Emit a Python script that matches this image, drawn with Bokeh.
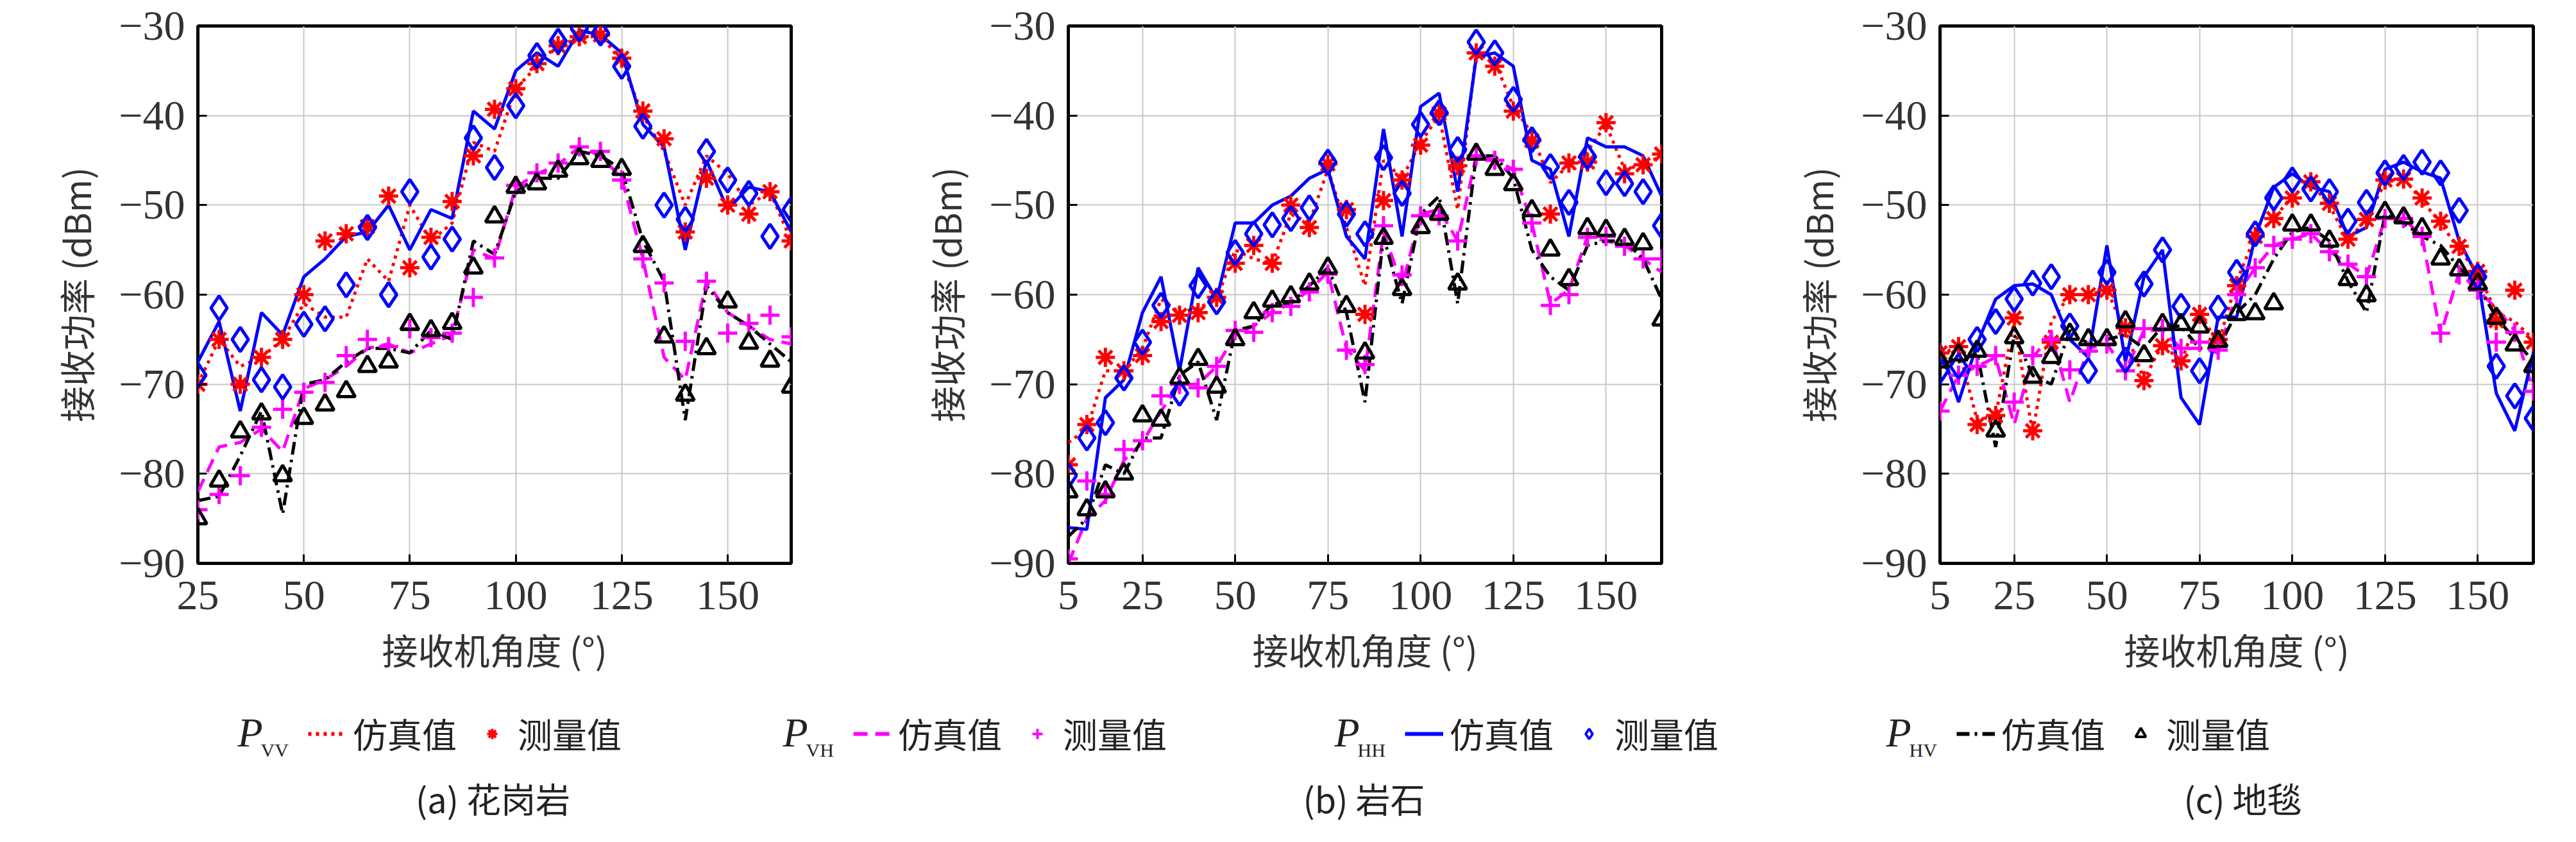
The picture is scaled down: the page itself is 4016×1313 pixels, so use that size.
import numpy as np
from bokeh.plotting import figure
from bokeh.layouts import column, row
from bokeh.models import Legend, LegendItem, Label, FixedTicker, ColumnDataSource, Range1d
from bokeh.embed import file_html
from bokeh.resources import INLINE

# ---------------- data ----------------
xa = list(range(25, 170, 5))
xb = list(range(5, 170, 5))
xc = list(range(5, 170, 5))

a_hh_sim = [-67.5,-63,-73,-62,-64.5,-58,-56,-53.5,-53,-50,-55,-50.5,-51.5,-39.5,-41.5,-35,-33,-34.5,-30.5,-31,-33,-41,-43.5,-55,-45,-50.5,-48,-48.5,-53]
a_hh_meas = [-69,-61.5,-65,-69.5,-70.3,-63.3,-62.7,-58.9,-52.5,-60,-48.5,-55.8,-53.8,-42.5,-45.8,-38.9,-33.3,-31.7,-30.3,-30.8,-34.5,-41.2,-50,-51.6,-44,-47.2,-48.7,-53.5,-50.5]
a_vv_sim = [-70,-65,-68,-67,-65,-61,-62.5,-62.5,-56,-58.5,-50,-54,-52,-43,-44,-37,-34.5,-32,-31.5,-31,-34,-40,-44,-50,-44.5,-46.5,-50,-48.5,-54]
a_vv_meas = [-70,-65,-70,-67,-65,-60,-54,-53.2,-52.4,-49,-57,-53.6,-49.6,-44.5,-39.3,-37,-34.2,-32.2,-31.2,-31,-33.6,-39.5,-42.6,-53,-47,-50,-51,-48.5,-54]
a_vh_sim = [-82,-77,-76.5,-75,-77.5,-70.5,-69.5,-68,-66,-65.5,-66.5,-65.5,-64.5,-55,-56,-48,-46.5,-45.5,-43.5,-44.5,-47,-56,-67,-69.5,-58.5,-62,-63.5,-65,-65.5]
a_vh_meas = [-84,-82.3,-80.2,-74.8,-72.8,-70.9,-69.8,-66.8,-65,-65.8,-63.8,-64.8,-64.3,-60.3,-55.9,-47.8,-46.4,-45.3,-43.5,-44,-47.2,-56,-58.7,-65.2,-58.5,-64.3,-63.2,-62.3,-64.7]
a_hv_sim = [-83,-82.5,-78,-73,-84.5,-70,-69.5,-67.5,-66,-66,-66.5,-64,-65,-54,-55.5,-48.5,-47,-47,-44,-44.5,-46,-54,-58.5,-74,-59,-62,-63.5,-65.5,-67.5]
a_hv_meas = [-85,-80.8,-75.3,-73.3,-80.2,-73.8,-72.3,-70.8,-68,-67.5,-63.3,-64,-63.2,-57,-51.3,-48,-47.6,-46.2,-44.8,-45.1,-46,-54.6,-64.7,-71.2,-66,-60.8,-65.4,-67.4,-70.3]

b_hh_sim = [-86,-86.2,-71.5,-69.5,-62,-58,-68.5,-57,-60.5,-52,-52,-50,-49,-47,-46,-53.5,-56,-41.5,-53.5,-39,-37.5,-48.5,-33.5,-33,-34.5,-45,-46,-53.5,-42.5,-43.5,-43.5,-44.5,-49]
b_hh_meas = [-80.2,-76,-74.3,-69.3,-65.3,-61.2,-71,-59,-60.8,-55.3,-53.2,-52.2,-51.5,-50.3,-45.2,-51,-53.2,-44.7,-48.7,-41,-39.7,-43.8,-31.8,-33,-38.2,-42.7,-45.7,-49.7,-44.6,-47.5,-47.6,-48.5,-52.3]
b_vv_sim = [-76.5,-75,-68.5,-68.5,-66,-60.5,-62,-61.5,-60.5,-55,-56,-56.5,-51,-52,-46,-52.5,-59,-45,-47,-43,-40,-50.5,-33,-34,-39,-42,-47.5,-45.5,-44,-41,-46,-45.5,-44.5]
b_vv_meas = [-79,-74.5,-67,-68.5,-66.8,-63,-62.3,-62,-60.3,-56.5,-54.5,-56.5,-50,-52.5,-45.4,-50.5,-62.2,-49.5,-47.2,-43.3,-39.8,-45.6,-33,-34.5,-39.5,-42.8,-51,-45.3,-45.2,-40.8,-46.5,-45.5,-44.3]
b_vh_sim = [-90,-85,-83,-78.5,-76.5,-73,-70,-70,-68,-64.5,-63.5,-62,-61,-59.5,-57.5,-66,-68.5,-53,-59,-51,-50.5,-54,-44.5,-45,-46,-52,-61,-59.5,-53.5,-54,-54.5,-56,-57.5]
b_vh_meas = [-89.5,-80.8,-82.3,-77.3,-76.3,-71.3,-70,-70.4,-68,-64,-64.2,-62,-61.3,-59.7,-57.7,-66.2,-67.8,-52.3,-57.8,-51.2,-51.2,-54,-44.5,-45,-46,-52,-61.2,-60,-53.6,-53.5,-54.6,-56,-56]
b_hv_sim = [-87,-85,-79,-80,-76,-76,-69,-67.5,-74,-64,-63.5,-61,-61,-59,-57,-62,-72,-53.5,-61,-51,-49,-61,-44.5,-44.5,-47,-55,-58,-59.5,-54.5,-54,-54,-56,-60.5]
b_hv_meas = [-82,-84,-82,-80,-73.5,-74,-69.3,-67.2,-70.3,-65,-62,-60.7,-60.2,-58.8,-57,-61.3,-66.5,-53.7,-59.4,-52.5,-51,-58.8,-44.3,-46,-47.7,-50.6,-55,-58.3,-52.6,-52.8,-53.8,-54.3,-62.8]

c_hh_sim = [-65.5,-72,-65.5,-60.5,-59,-58.8,-60,-65,-67,-54.5,-67.5,-58,-55,-71.5,-74.5,-62.5,-62.5,-53.5,-48,-46.5,-48,-48.5,-53.5,-52.5,-46,-45.2,-46.3,-47,-54,-58,-71,-75.2,-66.5]
c_hh_meas = [-68.5,-68,-65,-63,-60.5,-58.7,-58,-63.5,-68.5,-57.5,-67.3,-58.8,-55,-61.3,-68.5,-61.5,-57.5,-53.2,-49.2,-47.2,-48.2,-48.5,-51.8,-49.7,-46.4,-45.8,-45.2,-46.4,-50.6,-58,-68,-71.3,-73.8]
c_vv_sim = [-66.5,-66,-74,-73.5,-63,-75.5,-63,-60,-60,-59.5,-64,-69.5,-65.5,-67.5,-62,-65.5,-58.5,-53.5,-51.5,-49,-47.5,-50,-54,-51.5,-47.5,-47,-49.5,-52,-55,-57.5,-62,-63,-65]
c_vv_meas = [-66.5,-65.8,-74.5,-73.5,-62.6,-75.2,-65.3,-60,-60,-59.5,-63.7,-69.6,-65.7,-67.4,-62.2,-65,-59,-53.5,-51.5,-49.2,-47.4,-49.8,-53.8,-51.6,-47.2,-47.1,-49.2,-51.8,-54.6,-57.4,-62.9,-59.5,-65.3]
c_vh_sim = [-73,-69,-68,-67,-74.5,-67,-64.5,-72,-66,-65.5,-68.5,-64,-64,-66,-66,-66.5,-60,-57,-54.5,-53.8,-53.2,-55.2,-56.5,-58,-51.5,-51.5,-53.5,-64.5,-57.5,-59.5,-61.5,-64,-70.8]
c_vh_meas = [-73,-69,-68,-66.8,-72,-66.8,-65,-68.4,-66.3,-65.5,-68.5,-63.8,-63.8,-66,-65.3,-66.2,-60,-57,-54.5,-53.8,-53.2,-55.2,-56.6,-58,-51.5,-51.5,-53.5,-64.3,-57.8,-59.5,-65.3,-64.2,-70.8]
c_hv_sim = [-67.5,-67.5,-66.5,-77,-64.5,-69,-70,-64,-65.5,-65,-64.5,-66,-63.5,-63.5,-66,-66,-62,-60,-56,-53,-52.5,-54,-58.5,-62,-51,-52,-53.5,-54.5,-57,-59,-62.5,-65,-67.5]
c_hv_meas = [-67.5,-66.7,-66.3,-75.2,-64.8,-69.2,-67,-64.4,-65,-65,-63,-66.8,-63.3,-63.3,-63.6,-65.2,-62.2,-62.1,-61,-52.2,-52.2,-54,-58.3,-60.1,-50.8,-51.4,-52.6,-56,-57.2,-58.8,-62.6,-65.6,-68]

xticks_a = [25, 50, 75, 100, 125, 150]
xticks_bc = [5, 25, 50, 75, 100, 125, 150]
yticks = [-90, -80, -70, -60, -50, -40, -30]
captions = ["(a) 花岗岩", "(b) 岩石", "(c) 地毯"]

SERIF = "Liberation Serif"
CJK = "Noto Sans CJK SC"

STY = {
    "VV": dict(color="red", dash="5 7", marker="asterisk", size=30),
    "VH": dict(color="magenta", dash="22 12", marker="cross", size=30),
    "HH": dict(color="blue", dash="solid", marker="diamond", size=38),
    "HV": dict(color="black", dash="20 8 4 8", marker="triangle", size=28),
}


def panel(x, series, xmin, xticks, left, right):
    p = figure(frame_width=925, frame_height=838, min_border_left=left,
               min_border_right=right, min_border_top=40, min_border_bottom=222,
               x_range=Range1d(xmin, 165), y_range=Range1d(-90, -30),
               output_backend="svg", toolbar_location=None,
               background_fill_color="white", border_fill_color="white")
    for key in ["VV", "VH", "HH", "HV"]:
        sim, meas = series[key]
        s = STY[key]
        p.line(x, sim, line_color=s["color"], line_dash=s["dash"], line_width=5)
    for key in ["VV", "VH", "HH", "HV"]:
        sim, meas = series[key]
        s = STY[key]
        p.scatter(x, meas, marker=s["marker"], size=s["size"], line_color=s["color"],
                  fill_color=None if s["marker"] in ("diamond", "triangle") else s["color"],
                  line_width=5)
    p.outline_line_color = "black"
    p.outline_line_width = 5
    p.xaxis.ticker = FixedTicker(ticks=xticks)
    p.yaxis.ticker = FixedTicker(ticks=yticks)
    p.yaxis.major_label_overrides = {t: "\u2212" + str(-t) for t in yticks}
    for ax in (p.xaxis, p.yaxis):
        ax.axis_line_color = None
        ax.major_tick_in = 14
        ax.major_tick_out = 0
        ax.major_tick_line_width = 3
        ax.minor_tick_line_color = None
        ax.major_label_text_font = SERIF
        ax.major_label_text_font_size = "66px"
        ax.major_label_text_color = "#333333"
        ax.axis_label_text_font = CJK
        ax.axis_label_text_font_size = "56px"
        ax.axis_label_text_font_style = "normal"
        ax.axis_label_text_color = "#333333"
    p.xaxis.major_label_standoff = 28
    p.yaxis.major_label_standoff = 20
    p.xaxis.axis_label = "接收机角度 (°)"
    p.yaxis.axis_label = "接收功率 (dBm)"
    p.xaxis.axis_label_standoff = 18
    p.yaxis.axis_label_standoff = 24
    p.grid.grid_line_color = "#c8c8c8"
    p.grid.grid_line_width = 2
    return p


pa = panel(xa, {"VV": (a_vv_sim, a_vv_meas), "VH": (a_vh_sim, a_vh_meas),
                "HH": (a_hh_sim, a_hh_meas), "HV": (a_hv_sim, a_hv_meas)}, 25, xticks_a, 308, 100)
pb = panel(xb, {"VV": (b_vv_sim, b_vv_meas), "VH": (b_vh_sim, b_vh_meas),
                "HH": (b_hh_sim, b_hh_meas), "HV": (b_hv_sim, b_hv_meas)}, 5, xticks_bc, 332, 76)
pc = panel(xc, {"VV": (c_vv_sim, c_vv_meas), "VH": (c_vh_sim, c_vh_meas),
                "HH": (c_hh_sim, c_hh_meas), "HV": (c_hv_sim, c_hv_meas)}, 5, xticks_bc, 358, 40)

# ---------------- legend + captions ----------------
lg = figure(width=3999, height=195, x_range=Range1d(0, 1), y_range=Range1d(0, 1),
            output_backend="svg", toolbar_location=None, min_border=0)
lg.axis.visible = False
lg.grid.visible = False
lg.outline_line_color = None
# off-range placeholder data: only the legend samples of these renderers are visible
dummy = ColumnDataSource(dict(x=[-5, -4], y=[-5, -4]))
legend_x = [440, 1290, 2150, 3010]
for i, key in enumerate(["VV", "VH", "HH", "HV"]):
    s = STY[key]
    rl = lg.line("x", "y", source=dummy, line_color=s["color"], line_dash=s["dash"], line_width=6)
    rm = lg.scatter("x", "y", source=dummy, marker=s["marker"], size=s["size"], line_color=s["color"],
                    fill_color=None if s["marker"] in ("diamond", "triangle") else s["color"], line_width=4)
    leg = Legend(items=[LegendItem(label="仿真值", renderers=[rl]), LegendItem(label="测量值", renderers=[rm])],
                 orientation="horizontal", location=(legend_x[i] + 40, 112),
                 glyph_width=60, glyph_height=40, label_standoff=10, spacing=25,
                 label_text_font=CJK, label_text_font_size="54px", label_text_color="#222222",
                 border_line_color=None, background_fill_alpha=0, padding=0, margin=0)
    lg.add_layout(leg, "center")
    lg.add_layout(Label(x=legend_x[i] - 70, y=118, x_units="screen", y_units="screen", text="P",
                        text_font=SERIF, text_font_style="italic", text_font_size="64px", text_color="#222222"))
    lg.add_layout(Label(x=legend_x[i] - 34, y=110, x_units="screen", y_units="screen", text=key,
                        text_font=SERIF, text_font_size="30px", text_color="#222222"))
cap_x = [768, 2126, 3496]
for cx, cap in zip(cap_x, captions):
    lg.add_layout(Label(x=cx, y=12, x_units="screen", y_units="screen", text=cap, text_align="center",
                        text_font=CJK, text_font_size="54px", text_color="#222222"))

layout = column(row(pa, pb, pc, spacing=0), lg, spacing=0)
open("out.html", "w").write(file_html(layout, INLINE))
